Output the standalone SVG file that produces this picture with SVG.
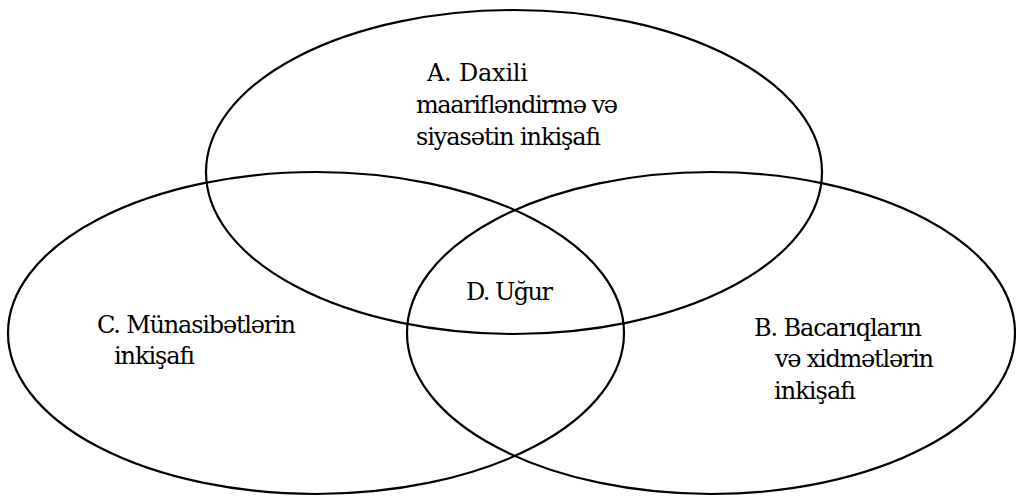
<svg xmlns="http://www.w3.org/2000/svg" width="1016" height="497" viewBox="0 0 1016 497">
<style>
.e{fill:none;stroke:#000;stroke-width:2.2}
.t{font-family:'DejaVu Serif','Liberation Serif',serif;font-size:24px;fill:#000}
</style>
<rect width="1016" height="497" fill="#fff"/>
<g id="connectors"></g>
<g id="nodeA">
<ellipse class="e" cx="514" cy="172" rx="308" ry="162"/>
<text class="t" x="427" y="81" textLength="101">A. Daxili</text>
<text class="t" x="416" y="113" textLength="202">maarifləndirmə və</text>
<text class="t" x="416" y="145" textLength="185">siyasətin inkişafı</text>
</g>
<g id="nodeC">
<ellipse class="e" cx="316" cy="333" rx="308" ry="161"/>
<text class="t" x="97" y="333" textLength="199">C. Münasibətlərin</text>
<text class="t" x="114" y="364" textLength="81">inkişafı</text>
</g>
<g id="nodeB">
<ellipse class="e" cx="711" cy="333" rx="304" ry="161"/>
<text class="t" x="754" y="336" textLength="168">B. Bacarıqların</text>
<text class="t" x="775" y="367" textLength="159">və xidmətlərin</text>
<text class="t" x="774" y="399" textLength="82">inkişafı</text>
</g>
<g id="nodeD">
<text class="t" x="466" y="300" textLength="87">D. Uğur</text>
</g>
</svg>
